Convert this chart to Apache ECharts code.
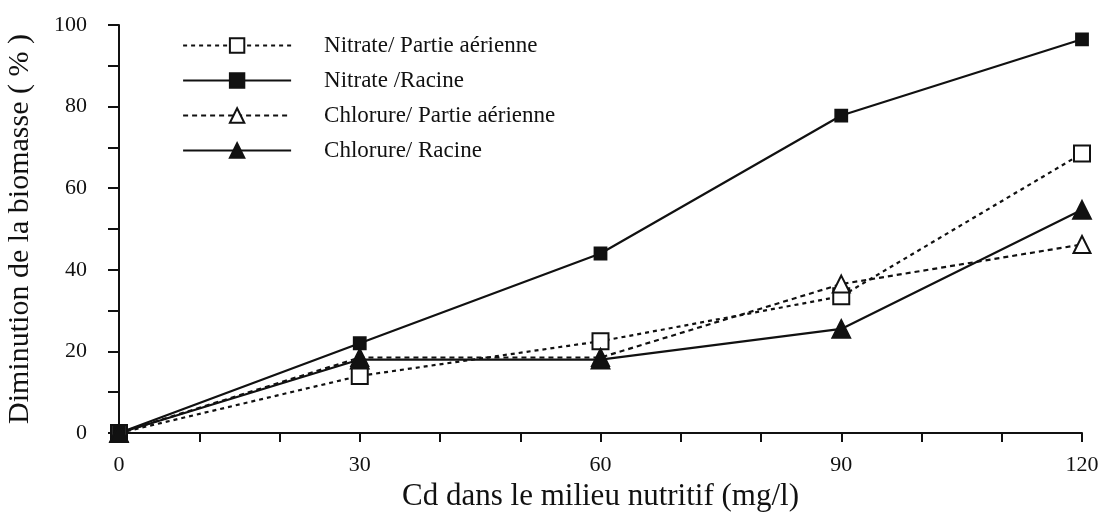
<!DOCTYPE html>
<html>
<head>
<meta charset="utf-8">
<script src="https://cdn.jsdelivr.net/npm/echarts@6/dist/echarts.min.js"></script>
<style>
  html, body { margin: 0; padding: 0; background: #fff; }
  #chart { width: 1099px; height: 514px; }
</style>
</head>
<body>
<div id="chart"></div>
<script>
// Cd concentration in the nutrient medium (mg/l)
const cdLevels = [0, 30, 60, 90, 120];

// Biomass decrease (%) per salt and plant part
const nitratePartieAerienne = [0, 14, 22.5, 33.5, 68.5];
const nitrateRacine = [0, 22, 44, 77.8, 96.5];
const chlorurePartieAerienne = [0, 18.5, 18.5, 36.5, 46.2];
const chlorureRacine = [0, 18, 18, 25.5, 54.7];

const seriesNames = [
  'Nitrate/ Partie aérienne',
  'Nitrate /Racine',
  'Chlorure/ Partie aérienne',
  'Chlorure/ Racine'
];

const pairs = arr => cdLevels.map((x, i) => [x, arr[i]]);
const ink = '#111';
const serif = '"Liberation Serif", "Times New Roman", serif';

function lineSeries(name, values, symbol, size, dash) {
  return {
    name: name,
    type: 'line',
    data: pairs(values),
    symbol: symbol,
    symbolSize: size,
    lineStyle: { color: ink, width: 2.2, type: dash },
    itemStyle: { color: ink, borderColor: ink, borderWidth: 1.8 },
    emphasis: { disabled: true },
    z: 3
  };
}

const chart = echarts.init(document.getElementById('chart'), null, { renderer: 'canvas' });
chart.setOption({
  animation: false,
  backgroundColor: '#fff',
  grid: { left: 119, right: 17, top: 25, bottom: 81, outerBoundsMode: 'none', containLabel: false },
  legend: {
    orient: 'vertical',
    left: 182,
    top: 34,
    padding: 0,
    itemWidth: 108,
    itemHeight: 18,
    itemGap: 12,
    selectedMode: false,
    data: seriesNames,
    lineStyle: { width: 2.2 },
    textStyle: {
      fontFamily: serif,
      fontSize: 23,
      lineHeight: 22,
      color: ink,
      padding: [0, 0, 0, 28]
    }
  },
  xAxis: {
    type: 'value',
    min: 0,
    max: 120,
    interval: 10,
    name: 'Cd dans le milieu nutritif (mg/l)',
    nameLocation: 'middle',
    nameGap: 45,
    nameTextStyle: { fontFamily: serif, fontSize: 31, color: ink },
    axisLine: { lineStyle: { color: ink, width: 2 } },
    axisTick: { inside: false, length: 9, lineStyle: { color: ink, width: 2 } },
    axisLabel: {
      fontFamily: serif,
      fontSize: 22,
      color: ink,
      margin: 21,
      formatter: v => (v % 30 === 0 ? String(v) : '')
    },
    splitLine: { show: false }
  },
  yAxis: {
    type: 'value',
    min: 0,
    max: 100,
    interval: 10,
    name: 'Diminution de la biomasse ( % )',
    nameLocation: 'middle',
    nameGap: 84,
    nameRotate: 90,
    nameTextStyle: { fontFamily: serif, fontSize: 30, color: ink },
    axisLine: { show: true, lineStyle: { color: ink, width: 2 } },
    axisTick: { show: true, inside: false, length: 11, lineStyle: { color: ink, width: 2 } },
    axisLabel: {
      fontFamily: serif,
      fontSize: 22,
      color: ink,
      margin: 32,
      formatter: v => (v % 20 === 0 ? String(v) : '')
    },
    splitLine: { show: false }
  },
  series: [
    lineSeries(seriesNames[0], nitratePartieAerienne, 'emptyRect', 16, [4, 4]),
    lineSeries(seriesNames[1], nitrateRacine, 'rect', 12, 'solid'),
    lineSeries(seriesNames[2], chlorurePartieAerienne, 'emptyTriangle', 17, [5, 4]),
    lineSeries(seriesNames[3], chlorureRacine, 'triangle', 18, 'solid')
  ]
});
</script>
</body>
</html>
